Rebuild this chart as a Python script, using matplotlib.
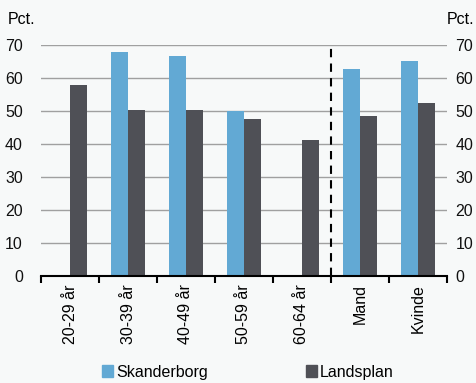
import matplotlib
matplotlib.use("Agg")
import matplotlib.pyplot as plt
from matplotlib.patches import Patch
import numpy as np

categories = ["20-29 år", "30-39 år", "40-49 år", "50-59 år", "60-64 år", "Mand", "Kvinde"]
skanderborg = [np.nan, 67.8, 66.6, 50.0, np.nan, 62.6, 65.2]
landsplan = [57.8, 50.3, 50.2, 47.6, 41.2, 48.5, 52.5]
yticks = [0, 10, 20, 30, 40, 50, 60, 70]

plt.rcParams['font.family'] = ['Liberation Sans', 'DejaVu Sans']
bg = "#f7f9f9"
blue = "#62a9d4"
dark = "#4f5056"
fs = 11.5

fig = plt.figure(figsize=(4.77, 3.83), dpi=100, facecolor=bg)
ax = fig.add_axes([0.086, 0.279, 0.851, 0.6035], facecolor=bg)

x = np.arange(len(categories))
w = 0.29
ax.bar(x - w/2, skanderborg, w, color=blue, zorder=3)
ax.bar(x + w/2, landsplan, w, color=dark, zorder=3)

ax.set_xlim(-0.5, len(categories) - 0.5)
ax.set_ylim(0, 70)
ax.set_yticks(yticks)
ax.yaxis.grid(True, color="#a0a0a0", linewidth=1.0, zorder=0)
ax.tick_params(axis='y', length=0, labelsize=fs, pad=13, colors="#111111")
for s in ["left", "right", "top"]:
    ax.spines[s].set_visible(False)
ax.spines["bottom"].set_color("black")
ax.spines["bottom"].set_linewidth(1.5)
ax.spines["bottom"].set_zorder(4)

ax.set_xticks(np.arange(-0.5, len(categories) + 0.5, 1))
ax.set_xticklabels([])
ax.set_xticks(x, minor=True)
ax.set_xticklabels(categories, minor=True, rotation=90, fontsize=fs)
ax.tick_params(axis='x', which='major', length=5, width=1.5, direction='out', color='black')
ax.tick_params(axis='x', which='minor', length=0, pad=6)

ax.axvline(4.5, ymin=0, ymax=1, color="black", linestyle=(0, (4, 3)), linewidth=1.5, zorder=4)

ax2 = ax.twinx()
ax2.set_ylim(0, 70)
ax2.set_yticks(yticks)
ax2.tick_params(axis='y', length=0, labelsize=fs, pad=6, colors="#111111")
for s in ["left", "right", "top", "bottom"]:
    ax2.spines[s].set_visible(False)

fig.text(8/477, 1 - 20/383, "Pct.", fontsize=fs, va='center', ha='left')
fig.text(474/477, 1 - 20/383, "Pct.", fontsize=fs, va='center', ha='right')

handles = [Patch(color=blue, label="Skanderborg"), Patch(color=dark, label="Landsplan")]
fig.legend(handles=handles, loc='center', bbox_to_anchor=(0.52, 1 - 372/383), ncol=2,
           frameon=False, fontsize=fs, handlelength=0.7, handleheight=0.7,
           handletextpad=0.2, columnspacing=6.1)

fig.savefig("out.png", dpi=100, facecolor=bg)
